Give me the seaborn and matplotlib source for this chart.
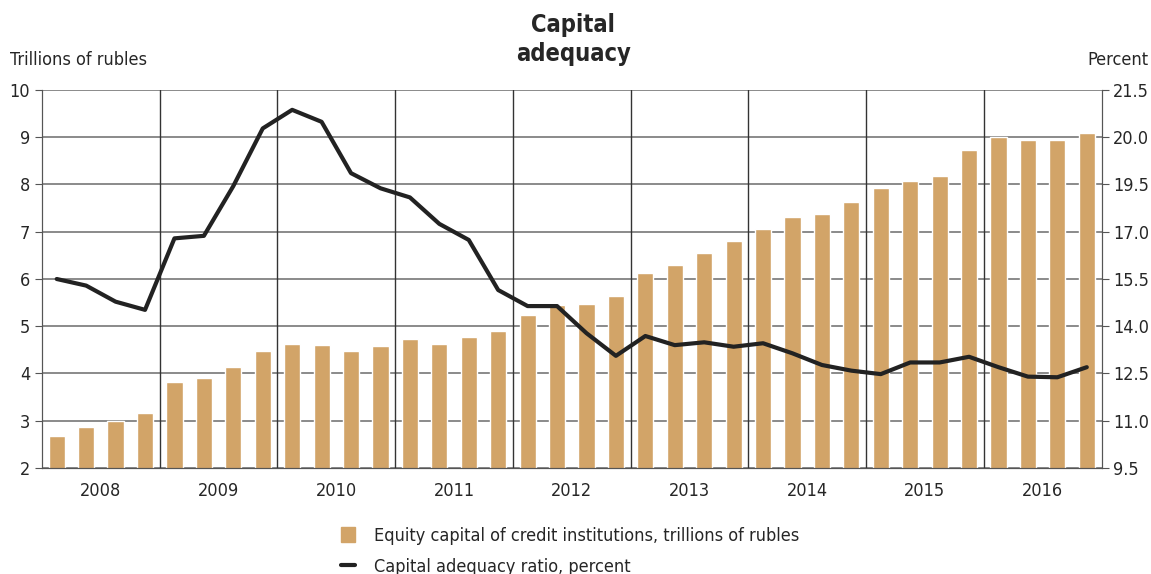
import numpy as np
import pandas as pd
import seaborn as sns
import matplotlib.pyplot as plt
from matplotlib.lines import Line2D
from matplotlib.patches import Patch

# quarterly data 2008-2016
years = ["2008", "2009", "2010", "2011", "2012", "2013", "2014", "2015", "2016"]
equity = [2.68, 2.86, 2.99, 3.16, 3.81, 3.90, 4.14, 4.47, 4.62, 4.60, 4.48, 4.58,
          4.73, 4.63, 4.77, 4.89, 5.24, 5.45, 5.47, 5.64, 6.12, 6.30, 6.56, 6.80,
          7.06, 7.31, 7.38, 7.63, 7.93, 8.07, 8.17, 8.74, 9.01, 8.95, 8.95, 9.10]
ratio = [15.50, 15.29, 14.78, 14.52, 16.79, 16.87, 18.45, 20.28, 20.87, 20.49, 18.86, 18.38,
         18.09, 17.25, 16.74, 15.15, 14.64, 14.64, 13.78, 13.06, 13.69, 13.40, 13.49, 13.35,
         13.46, 13.14, 12.77, 12.59, 12.48, 12.85, 12.85, 13.03, 12.70, 12.40, 12.38, 12.70]
right_ticks = [9.5, 11.0, 12.5, 14.0, 15.5, 17.0, 18.5, 20.0, 21.5]
right_labels = ["9.5", "11.0", "12.5", "14.0", "15.5", "17.0", "19.5", "20.0", "21.5"]

df = pd.DataFrame({"q": range(len(equity)), "equity": equity, "ratio": ratio})

sns.set_style("white")
plt.rcParams['font.family'] = ['DejaVu Sans']
plt.rcParams['font.stretch'] = 'condensed'

bar_color = "#D2A468"
fig = plt.figure(figsize=(11.51, 5.74), dpi=100)
ax = fig.add_axes([0.0365, 0.1847, 0.9205, 0.6585])

sns.barplot(data=df, x="q", y="equity", color=bar_color, width=0.55,
            saturation=1, ax=ax, zorder=2)
ax.set_ylim(2, 10)
ax.set_xlim(-0.5, len(equity) - 0.5)
ax.set_yticks(range(2, 11))
ax.set_ylabel("")
ax.set_xlabel("")
ax.grid(axis="y", color="#777777", linewidth=1.2, zorder=0)
ax.set_axisbelow(True)

# year separators
for b in np.arange(3.5, len(equity) - 1, 4):
    ax.axvline(b, color="#333333", linewidth=1, zorder=1)

ax.set_xticks(np.arange(-0.5, len(equity), 1), minor=True)
ax.set_xticks(np.arange(1.5, len(equity), 4))
ax.set_xticklabels(years)
ax.tick_params(axis="x", which="major", length=0, labelsize=13, pad=10)
ax.tick_params(axis="x", which="minor", length=5, color="#555555")
ax.tick_params(axis="y", length=5, direction="out", labelsize=13, color="#555555")

for s in ["left", "right", "top", "bottom"]:
    ax.spines[s].set_color("#555555")
ax.spines["top"].set_visible(False)

ax2 = ax.twinx()
sns.lineplot(data=df, x="q", y="ratio", color="#222222", linewidth=3, ax=ax2, zorder=3)
ax2.set_ylim(9.5, 21.5)
ax2.set_yticks(right_ticks)
ax2.set_yticklabels(right_labels)
ax2.set_ylabel("")
ax2.tick_params(axis="y", length=5, labelsize=13, color="#555555")
for s in ["left", "right", "top", "bottom"]:
    ax2.spines[s].set_color("#555555")
ax2.spines["top"].set_visible(False)

fig.text(0.498, 0.978, "Capital\nadequacy", ha="center", va="top",
         fontsize=17, fontweight="bold", linespacing=1.3)
fig.text(0.009, 0.895, "Trillions of rubles", ha="left", va="center", fontsize=13)
fig.text(0.998, 0.895, "Percent", ha="right", va="center", fontsize=13)

handles = [Patch(color=bar_color), Line2D([], [], color="#222222", linewidth=3)]
labels = ["Equity capital of credit institutions, trillions of rubles",
          "Capital adequacy ratio, percent"]
fig.legend(handles, labels, loc="upper left", bbox_to_anchor=(0.29, 0.095),
           frameon=False, fontsize=13, handlelength=0.8, handleheight=0.9,
           labelspacing=0.75, handletextpad=1.0, borderaxespad=0)

fig.savefig("out.png", dpi=100)
